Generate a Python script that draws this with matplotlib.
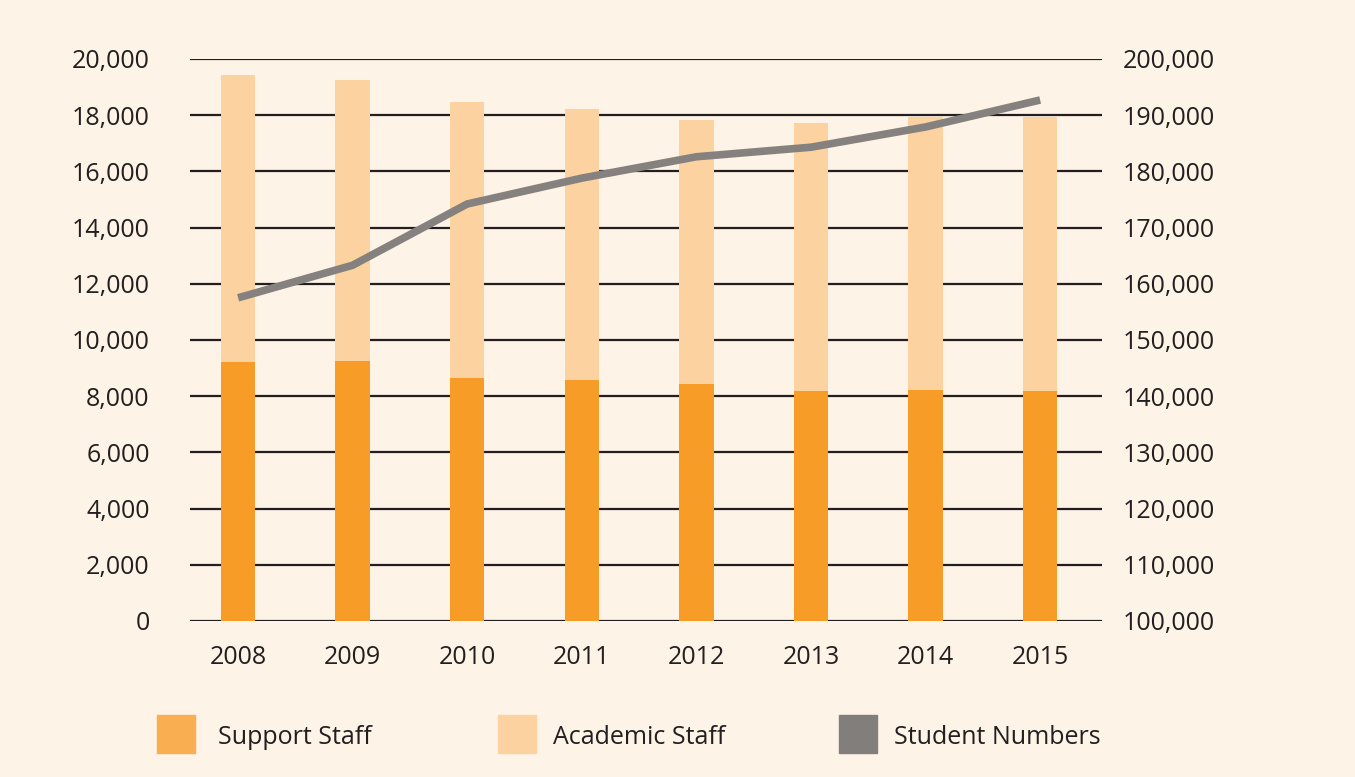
import matplotlib.pyplot as plt
from matplotlib.patches import Rectangle
from matplotlib.ticker import FuncFormatter

plt.rcParams['font.family'] = ['Open Sans', 'DejaVu Sans']

years = ['2008', '2009', '2010', '2011', '2012', '2013', '2014', '2015']
support_staff = [9220, 9250, 8650, 8580, 8430, 8190, 8220, 8190]
academic_staff = [10210, 10000, 9820, 9640, 9400, 9530, 9720, 9750]
student_numbers = [157500, 163300, 174200, 178800, 182600, 184300, 187900, 192700]

bg = '#fdf3e6'
c_support = '#f89c28'
c_academic = '#fcd3a0'
c_line = '#85817e'
c_text = '#231f20'

fig = plt.figure(figsize=(13.55, 7.77), dpi=100)
fig.patch.set_facecolor(bg)
ax = fig.add_axes([0.1402, 0.2008, 0.6731, 0.7233])
ax.set_facecolor(bg)

x = list(range(len(years)))
ax.bar(x, support_staff, width=0.3, color=c_support, zorder=3)
ax.bar(x, academic_staff, width=0.3, bottom=support_staff, color=c_academic, zorder=3)

ax.set_xlim(-0.42, 7.54)
ax.set_ylim(0, 20000)
ax.set_yticks(range(0, 20001, 2000))
ax.yaxis.set_major_formatter(FuncFormatter(lambda v, p: f'{int(v):,}'))
ax.set_xticks(x)
ax.set_xticklabels(years)
ax.grid(axis='y', color=c_text, linewidth=1.6, zorder=1)
ax.set_axisbelow(True)
for s in ax.spines.values():
    s.set_visible(False)
ax.tick_params(axis='both', length=0, labelsize=18, colors=c_text)
ax.tick_params(axis='y', pad=29)
ax.tick_params(axis='x', pad=17)

ax2 = ax.twinx()
ax2.plot(x, student_numbers, color=c_line, linewidth=5.5, solid_capstyle='butt', zorder=5)
ax2.set_ylim(100000, 200000)
ax2.set_yticks(range(100000, 200001, 10000))
ax2.yaxis.set_major_formatter(FuncFormatter(lambda v, p: f'{int(v):,}'))
for s in ax2.spines.values():
    s.set_visible(False)
ax2.tick_params(axis='y', length=0, labelsize=18, colors=c_text, pad=15)

# legend
W, H = 1355, 777
items = [('Support Staff', '#f9ae52', 157, 218), ('Academic Staff', c_academic, 498, 553),
         ('Student Numbers', '#827e7b', 839, 894)]
for label, col, px, tx in items:
    fig.patches.append(Rectangle((px / W, (H - 753) / H), 38 / W, 38 / H,
                                 transform=fig.transFigure, color=col))
    fig.text(tx / W, (H - 737) / H, label, fontsize=18, color=c_text, va='center')

fig.savefig('out.png', dpi=100, facecolor=bg)
